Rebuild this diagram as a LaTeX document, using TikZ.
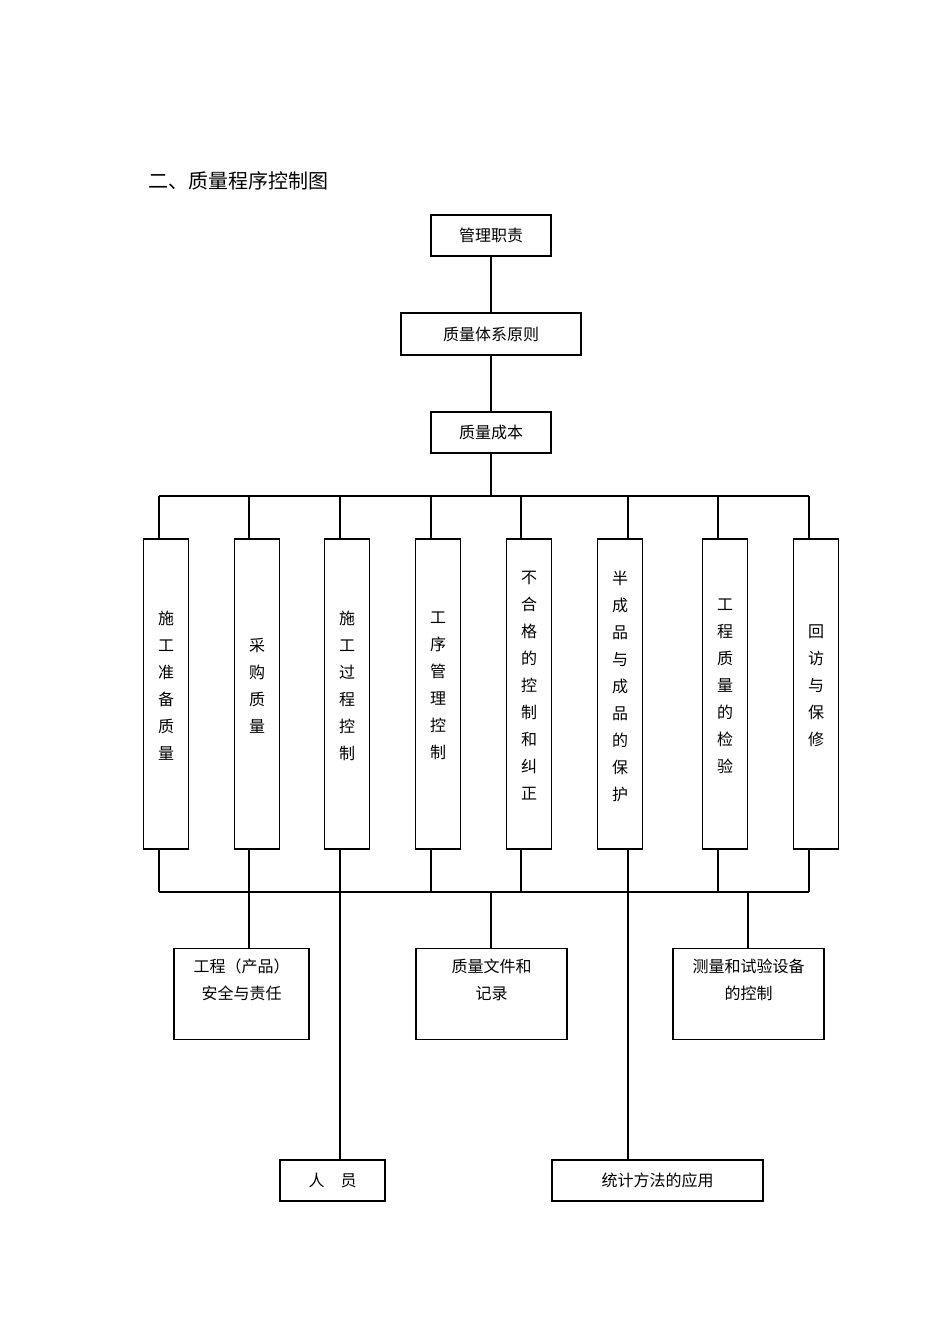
\documentclass[tikz,border=0pt]{standalone}
\usepackage{fontspec}
\setmainfont{Noto Sans CJK SC}
\begin{document}
\begin{tikzpicture}[x=1pt,y=-1pt,line width=1.2pt,
  bx/.style={draw,inner sep=0pt,font=\fontsize{16}{27}\selectfont,align=center},
  vt/.style={bx,minimum width=45pt,minimum height=310pt}]
\useasboundingbox (0,0) rectangle (950,1344);
\node[anchor=west,font=\fontsize{20}{24}\selectfont] (title) at (145,181) {二、质量程序控制图};
\node[bx,minimum width=120pt,minimum height=41pt] (a) at (491,235.5) {管理职责};
\node[bx,minimum width=180pt,minimum height=42pt] (b) at (491,334) {质量体系原则};
\node[bx,minimum width=120pt,minimum height=41pt] (c) at (491,432.5) {质量成本};
\draw (a) -- (b); \draw (b) -- (c);
\coordinate (bus) at (491,496);
\draw (c) -- (bus);
\draw (159,496) -- (809,496);
\draw (159,892) -- (809,892);
\foreach \n/\cx/\lx/\t in {v1/166/159/{施\\工\\准\\备\\质\\量},v2/257/249/{采\\购\\质\\量},v3/347/340/{施\\工\\过\\程\\控\\制},v4/438/431/{工\\序\\管\\理\\控\\制},v5/529/521/{不\\合\\格\\的\\控\\制\\和\\纠\\正},v6/620/628/{半\\成\\品\\与\\成\\品\\的\\保\\护},v7/725/718/{工\\程\\质\\量\\的\\检\\验},v8/816/809/{回\\访\\与\\保\\修}}{
  \node[vt] (\n) at (\cx,694) {};
  \node[font=\fontsize{16}{27}\selectfont,align=center,inner sep=0pt] (\n t) at (\cx,686) {\t};
  \draw (\lx,496) -- (\lx,539);
}
\foreach \lx in {159,431,521,718,809}{\draw (\lx,849) -- (\lx,892);}
\node[bx,minimum width=135pt,minimum height=91pt,anchor=north] (d1) at (241.5,948) {};
\node[anchor=north,inner sep=0pt,font=\fontsize{16}{27}\selectfont,align=center] at (241.5,958) {工程（产品）\\安全与责任};
\node[bx,minimum width=151pt,minimum height=91pt,anchor=north] (d2) at (491.5,948) {};
\node[anchor=north,inner sep=0pt,font=\fontsize{16}{27}\selectfont,align=center] at (491.5,958) {质量文件和\\记录};
\node[bx,minimum width=151pt,minimum height=91pt,anchor=north] (d3) at (748.5,948) {};
\node[anchor=north,inner sep=0pt,font=\fontsize{16}{27}\selectfont,align=center] at (748.5,958) {测量和试验设备\\的控制};
\node[bx,minimum width=105pt,minimum height=41pt] (e1) at (332.5,1180.5) {人\quad 员};
\node[bx,minimum width=211pt,minimum height=41pt] (e2) at (657.5,1180.5) {统计方法的应用};
\draw (249,849) -- (249,948);
\draw (491,892) -- (491,948);
\draw (748,892) -- (748,948);
\draw (340,849) -- (340,1160);
\draw (628,849) -- (628,1160);
\end{tikzpicture}
\end{document}
